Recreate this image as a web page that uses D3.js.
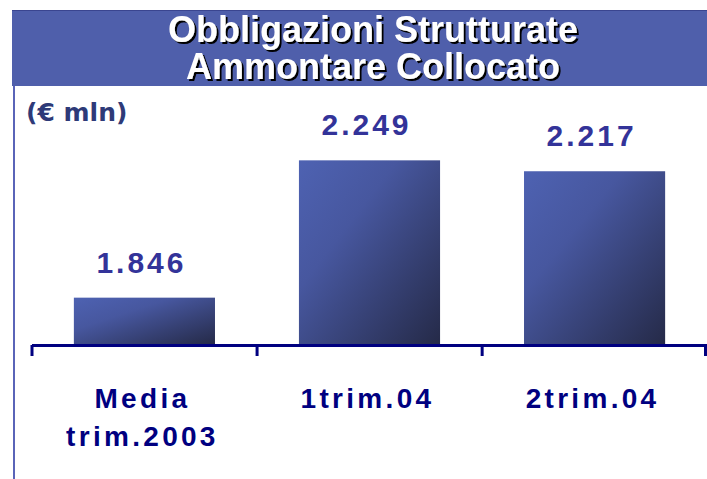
<!DOCTYPE html>
<html>
<head>
<meta charset="utf-8">
<script src="https://cdn.jsdelivr.net/npm/d3@7"></script>
<style>
  body { margin: 0; background: #fff; }
  svg { display: block; font-family: "Liberation Sans", Arial, sans-serif; }
</style>
</head>
<body>
<div class="chart"></div>
<script>
// data
var categories = [["Media", "trim.2003"], ["1trim.04"], ["2trim.04"]];
var values = [1.846, 2.249, 2.217];
var valueLabels = ["1.846", "2.249", "2.217"];
var titleLines = ["Obbligazioni Strutturate", "Ammontare Collocato"];
var unitLabel = "(\u20ac mln)";

var width = 707;
var height = 479;

var svg = d3.select('.chart')
    .append('svg')
    .attr('width', width)
    .attr('height', height);

var defs = svg.append('defs');
//bar gradient, light blue in the top left corner, dark navy bottom right
var grad = defs.append('linearGradient')
    .attr('id', 'barGrad')
    .attr('x1', 0).attr('y1', 0)
    .attr('x2', 1).attr('y2', 1);
grad.append('stop').attr('offset', '0%').attr('stop-color', '#4e62b2');
grad.append('stop').attr('offset', '35%').attr('stop-color', '#47579f');
grad.append('stop').attr('offset', '100%').attr('stop-color', '#252a48');

//black drop shadow for the title
defs.append('filter')
    .attr('id', 'shadow')
    .attr('x', '-5%').attr('y', '-5%')
    .attr('width', '110%').attr('height', '115%')
    .append('feDropShadow')
    .attr('dx', 2).attr('dy', 2)
    .attr('stdDeviation', 0.4)
    .attr('flood-color', '#000')
    .attr('flood-opacity', 1);

//header banner
svg.append('rect')
    .attr('x', 12).attr('y', 10)
    .attr('width', width - 12).attr('height', 76)
    .attr('fill', '#4f5fab');
svg.append('line')
    .attr('x1', 12).attr('x2', width)
    .attr('y1', 10.5).attr('y2', 10.5)
    .attr('stroke', '#3a4590').attr('stroke-width', 1);

//left border line
svg.append('line')
    .attr('x1', 14).attr('x2', 14)
    .attr('y1', 86).attr('y2', height)
    .attr('stroke', '#5a64b8').attr('stroke-width', 2);

//title, two lines in one text element
svg.append('text')
    .attr('text-anchor', 'middle')
    .attr('font-size', '36px')
    .attr('font-weight', 'bold')
    .attr('fill', '#fff')
    .attr('filter', 'url(#shadow)')
    .selectAll('tspan')
    .data(titleLines)
    .enter()
    .append('tspan')
    .attr('x', 373)
    .attr('y', function(d, i) { return 42 + i * 37; })
    .text(function(d) { return d; });

svg.append('text')
    .attr('x', 26).attr('y', 121)
    .attr('font-family', '"DejaVu Sans", Verdana, sans-serif')
    .attr('font-size', '25px')
    .attr('font-weight', 'bold')
    .attr('fill', '#2e3a78')
    .text(unitLabel);

var x = d3.scaleBand()
    .domain(d3.range(values.length))
    .range([32, width])
    .paddingInner(0.373)
    .paddingOuter(0.186);

//value axis does not start from zero in the original
var y = d3.scaleLinear()
    .domain([1.71, 2.25])
    .range([344, 160]);

svg.selectAll('.bar')
    .data(values)
    .enter()
    .append('rect')
    .attr('class', 'bar')
    .attr('x', function(d, i) { return x(i); })
    .attr('width', x.bandwidth())
    .attr('y', function(d) { return y(d); })
    .attr('height', function(d) { return y.range()[0] - y(d); })
    .attr('fill', 'url(#barGrad)');

svg.selectAll('.val')
    .data(values)
    .enter()
    .append('text')
    .attr('class', 'val')
    .attr('x', function(d, i) { return x(i) + x.bandwidth() / 2 - 3; })
    .attr('y', function(d) { return y(d) - 25; })
    .attr('text-anchor', 'middle')
    .attr('font-size', '30px')
    .attr('font-weight', 'bold')
    .attr('fill', '#333399')
    .style('letter-spacing', '3px')
    .text(function(d, i) { return valueLabels[i]; });

//category axis: line plus ticks at the band edges
var step = x.step();
var edges = d3.range(values.length + 1).map(function(i) { return 32 + i * step; });
svg.append('line')
    .attr('x1', 32).attr('x2', width)
    .attr('y1', 345.5).attr('y2', 345.5)
    .attr('stroke', '#000080').attr('stroke-width', 3);
svg.selectAll('.tick')
    .data(edges)
    .enter()
    .append('line')
    .attr('class', 'tick')
    .attr('x1', function(d) { return Math.min(d, width - 1.5); })
    .attr('x2', function(d) { return Math.min(d, width - 1.5); })
    .attr('y1', 345).attr('y2', 356)
    .attr('stroke', '#000080').attr('stroke-width', 3);

var cat = svg.selectAll('.cat')
    .data(categories)
    .enter()
    .append('text')
    .attr('class', 'cat')
    .attr('text-anchor', 'middle')
    .attr('font-size', '28px')
    .attr('font-weight', 'bold')
    .attr('fill', '#000080')
    .style('letter-spacing', '3.3px');
cat.selectAll('tspan')
    .data(function(d, i) { return d.map(function(s) { return { s: s, i: i }; }); })
    .enter()
    .append('tspan')
    .attr('x', function(d) { return x(d.i) + x.bandwidth() / 2 - 2; })
    .attr('y', function(d, j) { return 408 + j * 38; })
    .text(function(d) { return d.s; });
</script>
</body>
</html>
